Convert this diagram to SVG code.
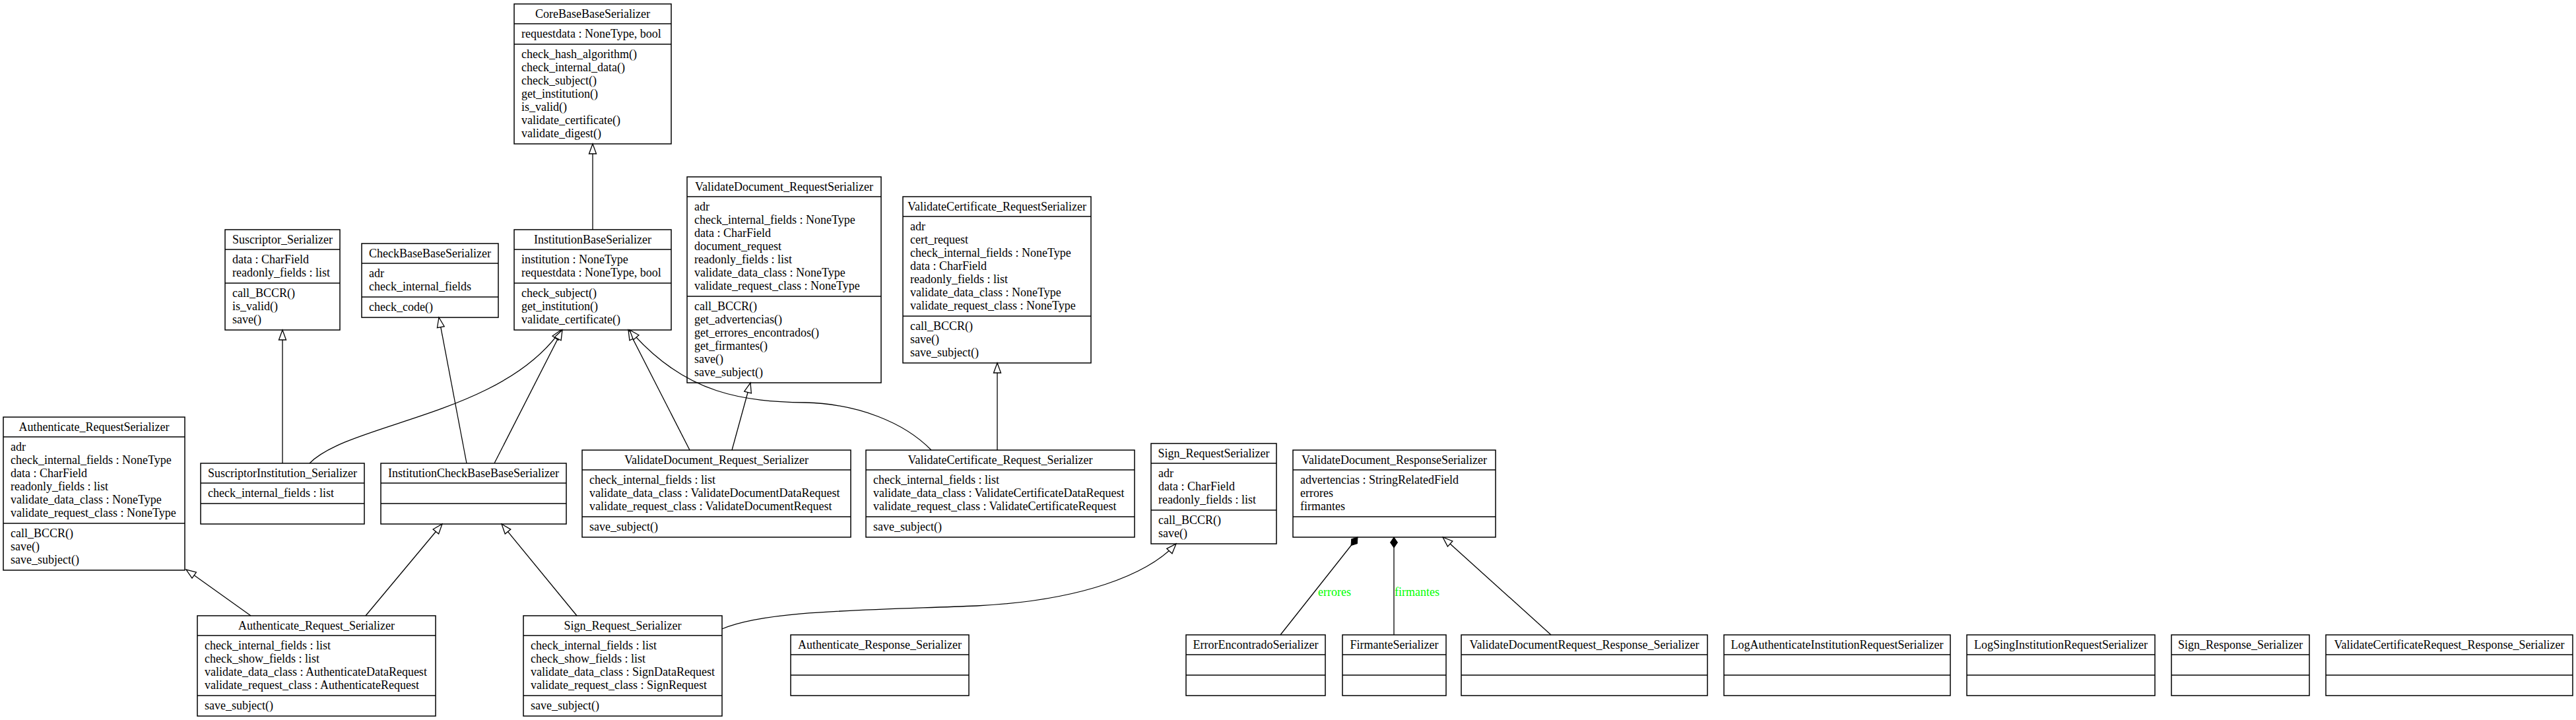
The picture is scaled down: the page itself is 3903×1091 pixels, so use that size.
<svg xmlns="http://www.w3.org/2000/svg" width="3903" height="1091" viewBox="0 0 3903 1091">
<style>
.b{fill:#fff;stroke:#000;stroke-width:1.5}
.d{stroke:#000;stroke-width:1.5}
text{font-family:"Liberation Serif","Times New Roman",serif;font-size:18px;fill:#000}
.t{text-anchor:middle}
.e{fill:none;stroke:#000;stroke-width:1.3}
.inh{marker-end:url(#inh)}
.cmp{marker-end:url(#cmp)}
.lbl{fill:#00ff00}
</style>
<defs>
<marker id="inh" markerUnits="userSpaceOnUse" markerWidth="18" markerHeight="14" refX="16" refY="7" orient="auto"><path d="M1,1.5 L16,7 L1,12.5 Z" fill="#fff" stroke="#000" stroke-width="1.3"/></marker>
<marker id="cmp" markerUnits="userSpaceOnUse" markerWidth="20" markerHeight="14" refX="17" refY="7" orient="auto"><path d="M1,7 L9,1.5 L17,7 L9,12.5 Z" fill="#000" stroke="#000" stroke-width="1"/></marker>
</defs>
<rect width="3903" height="1091" fill="#fff"/>

<g id="CoreBaseBaseSerializer">
<rect class="b" x="779" y="6" width="238" height="212"/>
<line class="d" x1="779" y1="36" x2="1017" y2="36"/><line class="d" x1="779" y1="67" x2="1017" y2="67"/>
<text class="t" x="898" y="27">CoreBaseBaseSerializer</text>
<text x="790" y="57">requestdata : NoneType, bool</text>
<text x="790" y="88">check_hash_algorithm()</text>
<text x="790" y="108">check_internal_data()</text>
<text x="790" y="128">check_subject()</text>
<text x="790" y="148">get_institution()</text>
<text x="790" y="168">is_valid()</text>
<text x="790" y="188">validate_certificate()</text>
<text x="790" y="208">validate_digest()</text>
</g>

<g id="InstitutionBaseSerializer">
<rect class="b" x="779" y="348" width="238" height="152"/>
<line class="d" x1="779" y1="378" x2="1017" y2="378"/><line class="d" x1="779" y1="429" x2="1017" y2="429"/>
<text class="t" x="898" y="369">InstitutionBaseSerializer</text>
<text x="790" y="399">institution : NoneType</text>
<text x="790" y="419">requestdata : NoneType, bool</text>
<text x="790" y="450">check_subject()</text>
<text x="790" y="470">get_institution()</text>
<text x="790" y="490">validate_certificate()</text>
</g>

<g id="Suscriptor_Serializer">
<rect class="b" x="341" y="348" width="174" height="152"/>
<line class="d" x1="341" y1="378" x2="515" y2="378"/><line class="d" x1="341" y1="429" x2="515" y2="429"/>
<text class="t" x="428" y="369">Suscriptor_Serializer</text>
<text x="352" y="399">data : CharField</text>
<text x="352" y="419">readonly_fields : list</text>
<text x="352" y="450">call_BCCR()</text>
<text x="352" y="470">is_valid()</text>
<text x="352" y="490">save()</text>
</g>

<g id="CheckBaseBaseSerializer">
<rect class="b" x="548" y="369" width="207" height="112"/>
<line class="d" x1="548" y1="399" x2="755" y2="399"/><line class="d" x1="548" y1="450" x2="755" y2="450"/>
<text class="t" x="651.5" y="390">CheckBaseBaseSerializer</text>
<text x="559" y="420">adr</text>
<text x="559" y="440">check_internal_fields</text>
<text x="559" y="471">check_code()</text>
</g>

<g id="ValidateDocument_RequestSerializer">
<rect class="b" x="1041" y="268" width="294" height="312"/>
<line class="d" x1="1041" y1="298" x2="1335" y2="298"/><line class="d" x1="1041" y1="449" x2="1335" y2="449"/>
<text class="t" x="1188" y="289">ValidateDocument_RequestSerializer</text>
<text x="1052" y="319">adr</text>
<text x="1052" y="339">check_internal_fields : NoneType</text>
<text x="1052" y="359">data : CharField</text>
<text x="1052" y="379">document_request</text>
<text x="1052" y="399">readonly_fields : list</text>
<text x="1052" y="419">validate_data_class : NoneType</text>
<text x="1052" y="439">validate_request_class : NoneType</text>
<text x="1052" y="470">call_BCCR()</text>
<text x="1052" y="490">get_advertencias()</text>
<text x="1052" y="510">get_errores_encontrados()</text>
<text x="1052" y="530">get_firmantes()</text>
<text x="1052" y="550">save()</text>
<text x="1052" y="570">save_subject()</text>
</g>

<g id="ValidateCertificate_RequestSerializer">
<rect class="b" x="1368" y="298" width="285" height="252"/>
<line class="d" x1="1368" y1="328" x2="1653" y2="328"/><line class="d" x1="1368" y1="479" x2="1653" y2="479"/>
<text class="t" x="1510.5" y="319">ValidateCertificate_RequestSerializer</text>
<text x="1379" y="349">adr</text>
<text x="1379" y="369">cert_request</text>
<text x="1379" y="389">check_internal_fields : NoneType</text>
<text x="1379" y="409">data : CharField</text>
<text x="1379" y="429">readonly_fields : list</text>
<text x="1379" y="449">validate_data_class : NoneType</text>
<text x="1379" y="469">validate_request_class : NoneType</text>
<text x="1379" y="500">call_BCCR()</text>
<text x="1379" y="520">save()</text>
<text x="1379" y="540">save_subject()</text>
</g>

<g id="Authenticate_RequestSerializer">
<rect class="b" x="5" y="632" width="275" height="232"/>
<line class="d" x1="5" y1="662" x2="280" y2="662"/><line class="d" x1="5" y1="793" x2="280" y2="793"/>
<text class="t" x="142.5" y="653">Authenticate_RequestSerializer</text>
<text x="16" y="683">adr</text>
<text x="16" y="703">check_internal_fields : NoneType</text>
<text x="16" y="723">data : CharField</text>
<text x="16" y="743">readonly_fields : list</text>
<text x="16" y="763">validate_data_class : NoneType</text>
<text x="16" y="783">validate_request_class : NoneType</text>
<text x="16" y="814">call_BCCR()</text>
<text x="16" y="834">save()</text>
<text x="16" y="854">save_subject()</text>
</g>

<g id="SuscriptorInstitution_Serializer">
<rect class="b" x="304" y="702" width="248" height="92"/>
<line class="d" x1="304" y1="732" x2="552" y2="732"/><line class="d" x1="304" y1="763" x2="552" y2="763"/>
<text class="t" x="428" y="723">SuscriptorInstitution_Serializer</text>
<text x="315" y="753">check_internal_fields : list</text>
</g>

<g id="InstitutionCheckBaseBaseSerializer">
<rect class="b" x="577" y="702" width="281" height="92"/>
<line class="d" x1="577" y1="732" x2="858" y2="732"/><line class="d" x1="577" y1="763" x2="858" y2="763"/>
<text class="t" x="717.5" y="723">InstitutionCheckBaseBaseSerializer</text>
</g>

<g id="ValidateDocument_Request_Serializer">
<rect class="b" x="882" y="682" width="407" height="132"/>
<line class="d" x1="882" y1="712" x2="1289" y2="712"/><line class="d" x1="882" y1="783" x2="1289" y2="783"/>
<text class="t" x="1085.5" y="703">ValidateDocument_Request_Serializer</text>
<text x="893" y="733">check_internal_fields : list</text>
<text x="893" y="753">validate_data_class : ValidateDocumentDataRequest</text>
<text x="893" y="773">validate_request_class : ValidateDocumentRequest</text>
<text x="893" y="804">save_subject()</text>
</g>

<g id="ValidateCertificate_Request_Serializer">
<rect class="b" x="1312" y="682" width="407" height="132"/>
<line class="d" x1="1312" y1="712" x2="1719" y2="712"/><line class="d" x1="1312" y1="783" x2="1719" y2="783"/>
<text class="t" x="1515.5" y="703">ValidateCertificate_Request_Serializer</text>
<text x="1323" y="733">check_internal_fields : list</text>
<text x="1323" y="753">validate_data_class : ValidateCertificateDataRequest</text>
<text x="1323" y="773">validate_request_class : ValidateCertificateRequest</text>
<text x="1323" y="804">save_subject()</text>
</g>

<g id="Sign_RequestSerializer">
<rect class="b" x="1744" y="672" width="190" height="152"/>
<line class="d" x1="1744" y1="702" x2="1934" y2="702"/><line class="d" x1="1744" y1="773" x2="1934" y2="773"/>
<text class="t" x="1839" y="693">Sign_RequestSerializer</text>
<text x="1755" y="723">adr</text>
<text x="1755" y="743">data : CharField</text>
<text x="1755" y="763">readonly_fields : list</text>
<text x="1755" y="794">call_BCCR()</text>
<text x="1755" y="814">save()</text>
</g>

<g id="ValidateDocument_ResponseSerializer">
<rect class="b" x="1959" y="682" width="307" height="132"/>
<line class="d" x1="1959" y1="712" x2="2266" y2="712"/><line class="d" x1="1959" y1="783" x2="2266" y2="783"/>
<text class="t" x="2112.5" y="703">ValidateDocument_ResponseSerializer</text>
<text x="1970" y="733">advertencias : StringRelatedField</text>
<text x="1970" y="753">errores</text>
<text x="1970" y="773">firmantes</text>
</g>

<g id="Authenticate_Request_Serializer">
<rect class="b" x="299" y="933" width="361" height="152"/>
<line class="d" x1="299" y1="963" x2="660" y2="963"/><line class="d" x1="299" y1="1054" x2="660" y2="1054"/>
<text class="t" x="479.5" y="954">Authenticate_Request_Serializer</text>
<text x="310" y="984">check_internal_fields : list</text>
<text x="310" y="1004">check_show_fields : list</text>
<text x="310" y="1024">validate_data_class : AuthenticateDataRequest</text>
<text x="310" y="1044">validate_request_class : AuthenticateRequest</text>
<text x="310" y="1075">save_subject()</text>
</g>

<g id="Sign_Request_Serializer">
<rect class="b" x="793" y="933" width="301" height="152"/>
<line class="d" x1="793" y1="963" x2="1094" y2="963"/><line class="d" x1="793" y1="1054" x2="1094" y2="1054"/>
<text class="t" x="943.5" y="954">Sign_Request_Serializer</text>
<text x="804" y="984">check_internal_fields : list</text>
<text x="804" y="1004">check_show_fields : list</text>
<text x="804" y="1024">validate_data_class : SignDataRequest</text>
<text x="804" y="1044">validate_request_class : SignRequest</text>
<text x="804" y="1075">save_subject()</text>
</g>

<g id="Authenticate_Response_Serializer">
<rect class="b" x="1198" y="962" width="270" height="92"/>
<line class="d" x1="1198" y1="992" x2="1468" y2="992"/><line class="d" x1="1198" y1="1023" x2="1468" y2="1023"/>
<text class="t" x="1333" y="983">Authenticate_Response_Serializer</text>
</g>

<g id="ErrorEncontradoSerializer">
<rect class="b" x="1797" y="962" width="211" height="92"/>
<line class="d" x1="1797" y1="992" x2="2008" y2="992"/><line class="d" x1="1797" y1="1023" x2="2008" y2="1023"/>
<text class="t" x="1902.5" y="983">ErrorEncontradoSerializer</text>
</g>

<g id="FirmanteSerializer">
<rect class="b" x="2034" y="962" width="157" height="92"/>
<line class="d" x1="2034" y1="992" x2="2191" y2="992"/><line class="d" x1="2034" y1="1023" x2="2191" y2="1023"/>
<text class="t" x="2112.5" y="983">FirmanteSerializer</text>
</g>

<g id="ValidateDocumentRequest_Response_Serializer">
<rect class="b" x="2214" y="962" width="373" height="92"/>
<line class="d" x1="2214" y1="992" x2="2587" y2="992"/><line class="d" x1="2214" y1="1023" x2="2587" y2="1023"/>
<text class="t" x="2400.5" y="983">ValidateDocumentRequest_Response_Serializer</text>
</g>

<g id="LogAuthenticateInstitutionRequestSerializer">
<rect class="b" x="2612" y="962" width="343" height="92"/>
<line class="d" x1="2612" y1="992" x2="2955" y2="992"/><line class="d" x1="2612" y1="1023" x2="2955" y2="1023"/>
<text class="t" x="2783.5" y="983">LogAuthenticateInstitutionRequestSerializer</text>
</g>

<g id="LogSingInstitutionRequestSerializer">
<rect class="b" x="2980" y="962" width="285" height="92"/>
<line class="d" x1="2980" y1="992" x2="3265" y2="992"/><line class="d" x1="2980" y1="1023" x2="3265" y2="1023"/>
<text class="t" x="3122.5" y="983">LogSingInstitutionRequestSerializer</text>
</g>

<g id="Sign_Response_Serializer">
<rect class="b" x="3290" y="962" width="209" height="92"/>
<line class="d" x1="3290" y1="992" x2="3499" y2="992"/><line class="d" x1="3290" y1="1023" x2="3499" y2="1023"/>
<text class="t" x="3394.5" y="983">Sign_Response_Serializer</text>
</g>

<g id="ValidateCertificateRequest_Response_Serializer">
<rect class="b" x="3524" y="962" width="374" height="92"/>
<line class="d" x1="3524" y1="992" x2="3898" y2="992"/><line class="d" x1="3524" y1="1023" x2="3898" y2="1023"/>
<text class="t" x="3711" y="983">ValidateCertificateRequest_Response_Serializer</text>
</g>

<g id="connectors">
<path class="e inh" d="M898,348 L898,218"/>
<path class="e inh" d="M428,702 L428,500"/>
<path class="e inh" d="M469,702 C530,640 760,630 850,500"/>
<path class="e inh" d="M707,702 L665,481"/>
<path class="e inh" d="M749,702 L852,500"/>
<path class="e inh" d="M1045,682 L952,500"/>
<path class="e inh" d="M1411,682 C1370,640 1300,612 1220,610 C1130,608 1040,600 954,500"/>
<path class="e inh" d="M1109,682 L1137,580"/>
<path class="e inh" d="M1511,682 L1511,550"/>
<path class="e inh" d="M380,933 L282,863"/>
<path class="e inh" d="M554,933 L670,794"/>
<path class="e inh" d="M874,933 L760,794"/>
<path class="e inh" d="M1094,953 C1160,925 1300,925 1480,918 C1640,910 1740,870 1782,824"/>
<path class="e inh" d="M2350,962 L2186,814"/>
<path class="e cmp" d="M1940,962 L2057,814"/>
<path class="e cmp" d="M2112,962 L2112,814"/>
<text class="lbl" x="1997" y="903">errores</text>
<text class="lbl" x="2113" y="903">firmantes</text>
</g>
</svg>
